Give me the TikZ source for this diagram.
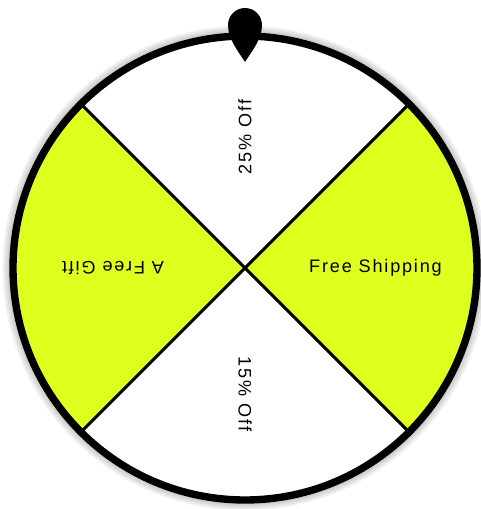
\documentclass[tikz,border=0pt]{standalone}
\usepackage{fontspec}
\newfontfamily\wheelfont[LetterSpace=10]{Liberation Sans}
\usetikzlibrary{calc}
\definecolor{WheelLime}{RGB}{223,255,31}

\begin{document}
\begin{tikzpicture}[
  slice/.style={fill=WheelLime},
  spoke/.style={line width=1.7pt, black},
  rim/.style={line width=4.2pt, black},
  halo/.style={black, opacity=0.05},
  lab/.style={font=\wheelfont\fontsize{10.3}{12}\selectfont, inner sep=0pt}]
\useasboundingbox (0,0) rectangle (9.62,10.18);
\coordinate (c) at (4.9,4.82);
% soft shadow round the wheel
\foreach \w in {6,8,10,12} \draw[halo, line width=\w pt] (c) circle (4.64);
\fill[white] (c) circle (4.64);
\fill[slice] (c) -- ++(-45:4.64) arc[start angle=-45, end angle=45, radius=4.64] -- cycle;
\fill[slice] (c) -- ++(135:4.64) arc[start angle=135, end angle=225, radius=4.64] -- cycle;
\coordinate (e1) at ($(c)+(45:4.64)$);
\coordinate (e2) at ($(c)+(135:4.64)$);
\coordinate (e3) at ($(c)+(225:4.64)$);
\coordinate (e4) at ($(c)+(315:4.64)$);
\draw[spoke] (e1) -- (e3); \draw[spoke] (e2) -- (e4);
\draw[rim] (c) circle (4.64);
\node[lab, rotate=0] (ship) at ($(c)+(0:2.61)$) {Free Shipping};
\node[lab, rotate=90] (off25) at ($(c)+(90:2.62)$) {25\% Off};
\node[lab, rotate=180] (gift) at ($(c)+(180:2.64)$) {A Free Gift};
\node[lab, rotate=-90] (off15) at ($(c)+(270:2.52)$) {15\% Off};
% pointer
\coordinate (tip) at (4.9,8.94);
\fill (tip) .. controls (4.76,9.16) and (4.56,9.40) .. (4.56,9.68) arc[start angle=180, end angle=0, radius=0.34] .. controls (5.24,9.40) and (5.04,9.16) .. (tip) -- cycle;
\end{tikzpicture}
\end{document}
